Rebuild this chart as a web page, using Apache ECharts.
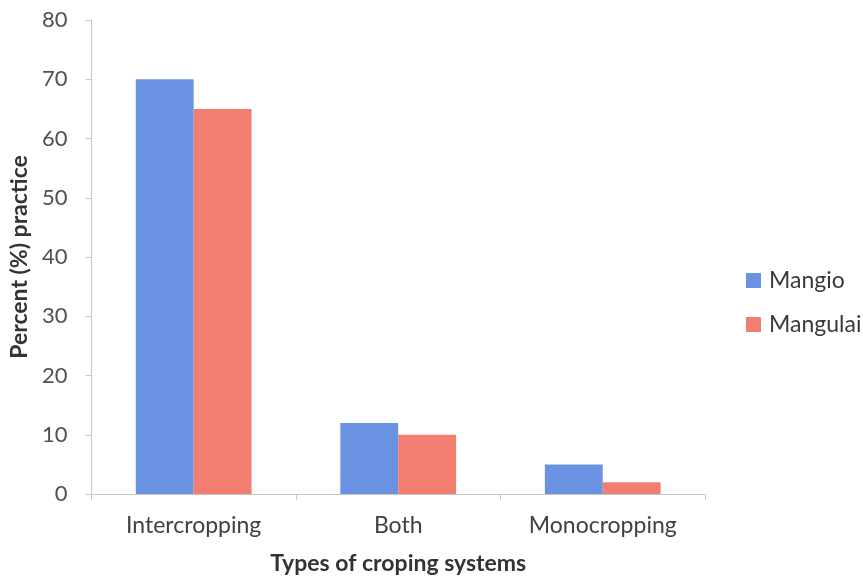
<!DOCTYPE html>
<html>
<head>
<meta charset="utf-8">
<script src="https://cdn.jsdelivr.net/npm/echarts@6/dist/echarts.min.js"></script>
<style>
  html, body { margin: 0; padding: 0; background: #ffffff; }
  #chart { width: 863px; height: 580px; }
</style>
</head>
<body>
<div id="chart"></div>
<script>
// Cropping system practice by site (percent of respondents)
const categories = ['Intercropping', 'Both', 'Monocropping'];
const mangio = [70, 12, 5];
const mangulai = [65, 10, 2];
const yTicks = [0, 10, 20, 30, 40, 50, 60, 70, 80];

const font = 'Lato, "Open Sans", sans-serif';
const chart = echarts.init(document.getElementById('chart'));

chart.setOption({
  backgroundColor: '#ffffff',
  animation: false,
  textStyle: { fontFamily: font },
  grid: { left: 91, right: 158, top: 20, bottom: 85, containLabel: false },
  legend: {
    orient: 'vertical',
    left: 741,
    top: 264,
    itemWidth: 15,
    itemHeight: 15,
    itemGap: 21,
    icon: 'rect',
    textStyle: { fontFamily: font, fontSize: 23, color: '#3a3a3a', padding: [0, 0, 0, 3] },
    data: ['Mangio', 'Mangulai']
  },
  xAxis: {
    type: 'category',
    data: categories,
    name: 'Types of croping systems',
    nameLocation: 'middle',
    nameGap: 58,
    nameTextStyle: { fontFamily: font, fontSize: 23, fontWeight: 'bold', color: '#333333' },
    axisLine: { lineStyle: { color: '#c8c8cc', width: 1 } },
    axisTick: { show: true, alignWithLabel: false, length: 6, lineStyle: { color: '#c8c8cc' } },
    axisLabel: { fontFamily: font, fontSize: 23, color: '#404040', margin: 20 },
    splitLine: { show: false }
  },
  yAxis: {
    type: 'value',
    min: yTicks[0],
    max: yTicks[yTicks.length - 1],
    interval: 10,
    name: 'Percent (%) practice',
    nameLocation: 'middle',
    nameGap: 60,
    nameRotate: 90,
    nameTextStyle: { fontFamily: font, fontSize: 23, fontWeight: 'bold', color: '#333333' },
    axisLine: { show: true, lineStyle: { color: '#c8c8cc', width: 1 } },
    axisTick: { show: true, length: 6, lineStyle: { color: '#c8c8cc' } },
    axisLabel: { fontFamily: font, fontSize: 22, color: '#505050', margin: 24 },
    splitLine: { show: false }
  },
  series: [
    {
      name: 'Mangio',
      type: 'bar',
      data: mangio,
      barWidth: '28.3%',
      barGap: '0%',
      itemStyle: { color: '#6a92e2' }
    },
    {
      name: 'Mangulai',
      type: 'bar',
      data: mangulai,
      barWidth: '28.3%',
      itemStyle: { color: '#f27e72' }
    }
  ]
});
</script>
</body>
</html>
